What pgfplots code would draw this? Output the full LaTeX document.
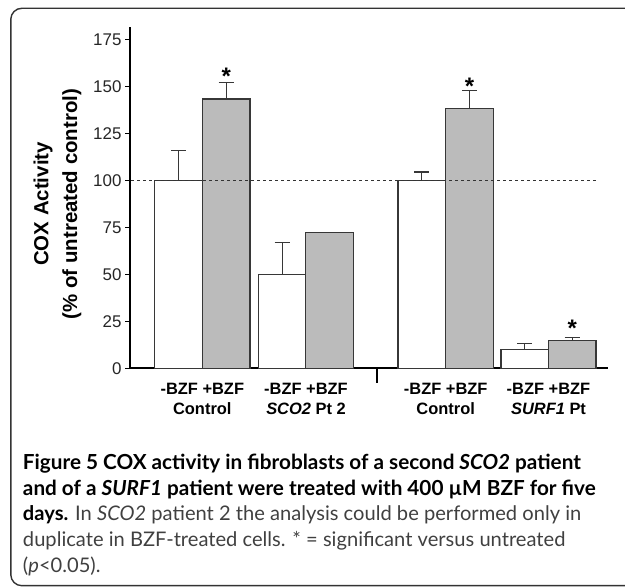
\documentclass[border=0pt]{standalone}
\usepackage{pgfplots}
\pgfplotsset{compat=1.18}
\usepackage{fontspec}
\setmainfont{Liberation Sans}
\newfontfamily\capfont{Lato}
\definecolor{barGray}{RGB}{187,187,187}
\definecolor{edge}{RGB}{55,55,55}
\begin{document}
\begin{tikzpicture}[x=1bp,y=1bp]
\useasboundingbox (0,0) rectangle (625,587);
\begin{scope}
\clip (0,0) rectangle (625,587);
\draw[rounded corners=11bp, line width=1.4bp, black!80] (10.8,578.7) rectangle (700,1.3);
\end{scope}
\begin{axis}[
  at={(130bp,218.7bp)}, anchor=south west,
  scale only axis, width=478.3bp, height=341.6bp,
  xmin=130, xmax=608.3, ymin=0, ymax=181.9,
  clip=false,
  axis x line=bottom, axis y line=left,
  axis line style={line width=1.7bp, -},
  ytick={0,25,...,175},
  ytick style={line width=1.2bp, black},
  major tick length=5bp,
  tick align=outside,
  /pgf/number format/assume math mode=true,
  yticklabel style={font=\fontsize{17}{17}\selectfont, text=black!85},
  xtick={202.3,306,445.7,548.5},
  xtick style={draw=none},
  xticklabels={{-BZF +BZF\\Control},{-BZF +BZF\\\textit{SCO2} Pt 2},{-BZF +BZF\\Control},{-BZF +BZF\\\textit{SURF1} Pt}},
  xticklabel style={align=center, font=\bfseries\fontsize{16.5}{20}\selectfont, yshift=-6bp},
]
\addplot[ybar, bar shift=0pt, bar width=47.6, fill=white, draw=edge, line width=1.1bp,
  error bars/.cd, y dir=plus, y explicit,
  error bar style={line width=1.1bp, edge},
  error mark options={rotate=90, mark size=7.5bp, line width=1.1bp, edge}]
  coordinates {(178.5,100) +- (0,16) (282.2,50) +- (0,17) (421.8,100) +- (0,4.5) (524.8,10) +- (0,3)};
\addplot[ybar, bar shift=0pt, bar width=47.6, fill=barGray, draw=edge, line width=1.1bp,
  error bars/.cd, y dir=plus, y explicit,
  error bar style={line width=1.1bp, edge},
  error mark options={rotate=90, mark size=7.5bp, line width=1.1bp, edge}]
  coordinates {(226.2,143.4) +- (0,9) (329.7,72.2) +- (0,0) (469.6,138.4) +- (0,9.6) (572.2,14.7) +- (0,1.6)};
\draw[dash pattern=on 3bp off 3bp, line width=0.9bp, black!80] (axis cs:131,100) -- (axis cs:596,100);
\draw[line width=1.8bp] (axis cs:376.7,0) -- (axis cs:376.7,-7.67);
\node[anchor=base, font=\bfseries\fontsize{24}{24}\selectfont, inner sep=0] at (axis cs:226.2,151.2) {*};
\node[anchor=base, font=\bfseries\fontsize{24}{24}\selectfont, inner sep=0] at (axis cs:469.6,145.9) {*};
\node[anchor=base, font=\bfseries\fontsize{24}{24}\selectfont, inner sep=0] at (axis cs:572.2,16.7) {*};
\end{axis}
\node[rotate=90, align=center, font=\bfseries\fontsize{20.5}{29}\selectfont] at (57.5,383) {COX Activity\\(\% of untreated control)};
\begin{scope}[every node/.style={anchor=base west, inner sep=0, font=\capfont\fontsize{20.2}{25}\selectfont}]
\node[font=\capfont\fontsize{20.8}{25}\selectfont] at (22.8,117) {\textbf{Figure 5 COX activity in fibroblasts of a second \textit{SCO2} patient}};
\node[font=\capfont\fontsize{20.8}{25}\selectfont] at (22.8,91) {\textbf{and of a \textit{SURF1} patient were treated with 400 µM BZF for five}};
\node at (22.8,66) {\textbf{days.} \textcolor{black!75}{In \textit{SCO2} patient 2 the analysis could be performed only in}};
\node[text=black!75] at (22.8,40) {duplicate in BZF-treated cells. * = significant versus untreated};
\node[text=black!75] at (22.8,14) {(\textit{p}<0.05).};
\end{scope}
\end{tikzpicture}
\end{document}
